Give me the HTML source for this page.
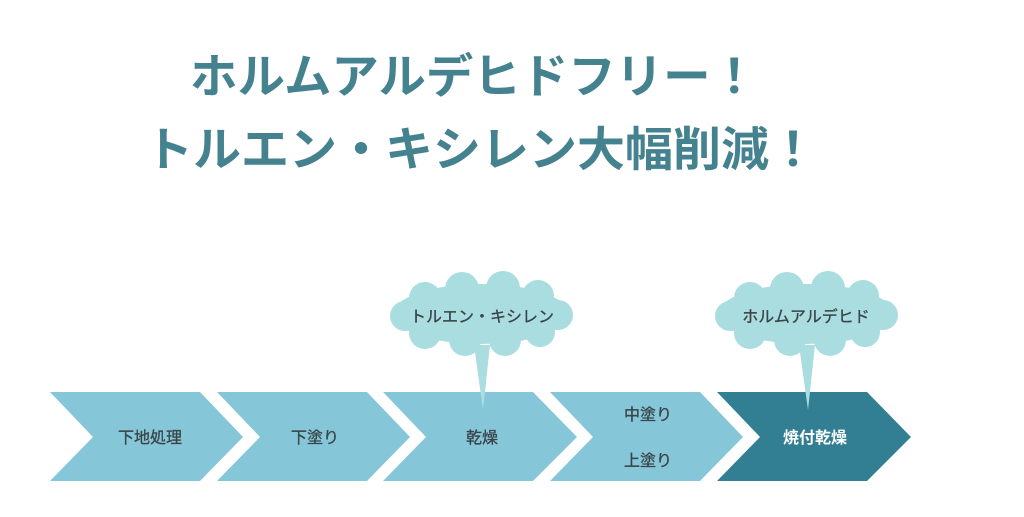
<!DOCTYPE html>
<html><head><meta charset="utf-8"><style>
html,body{margin:0;padding:0;background:#fff;width:1024px;height:517px;overflow:hidden}
svg{display:block}
text{font-family:"Liberation Sans","Noto Sans CJK JP",sans-serif}
</style></head><body>
<svg width="1024" height="517" viewBox="0 0 1024 517" xmlns="http://www.w3.org/2000/svg">
<g fill="#44828f" font-weight="bold" font-size="47">
<text x="190" y="93" textLength="568" lengthAdjust="spacingAndGlyphs">ホルムアルデヒドフリー！</text>
<text x="145" y="166" textLength="672" lengthAdjust="spacingAndGlyphs">トルエン・キシレン大幅削減！</text>
</g>
<g fill="#85c6d8">
<polygon points="50,392 200,392 243,437 200,481 50,481 93,437"/>
<polygon points="217,392 367,392 410,437 367,481 217,481 260,437"/>
<polygon points="383,392 533,392 577,437 533,481 383,481 426,437"/>
<polygon points="550,392 700,392 743,437 700,481 550,481 593,437"/>
</g>
<polygon fill="#327f94" points="717,392 867,392 911,437 867,481 717,481 760,437"/>
<g fill="#a9dde0">
<path d="M474,345 L483,410 L490,345 Z"/>
<ellipse cx="481" cy="314" rx="88" ry="30"/>
<circle cx="425" cy="298" r="16"/><circle cx="462" cy="289" r="17"/><circle cx="503" cy="288" r="17"/><circle cx="538" cy="296" r="16"/>
<circle cx="405" cy="316" r="15"/><circle cx="558" cy="315" r="15"/>
<circle cx="425" cy="333" r="16"/><circle cx="465" cy="340" r="16"/><circle cx="505" cy="340" r="16"/><circle cx="540" cy="332" r="15"/>
<path d="M799,345 L808,410 L815,345 Z"/>
<ellipse cx="806" cy="314" rx="88" ry="30"/>
<circle cx="750" cy="298" r="16"/><circle cx="787" cy="289" r="17"/><circle cx="828" cy="288" r="17"/><circle cx="863" cy="296" r="16"/>
<circle cx="730" cy="316" r="15"/><circle cx="883" cy="315" r="15"/>
<circle cx="750" cy="333" r="16"/><circle cx="790" cy="340" r="16"/><circle cx="830" cy="340" r="16"/><circle cx="865" cy="332" r="15"/>
</g>
<g fill="#3a4448" font-size="16" text-anchor="middle" stroke="#3a4448" stroke-width="0.3">
<text x="482" y="322">トルエン・キシレン</text>
<text x="806" y="322">ホルムアルデヒド</text>
<text x="150" y="443">下地処理</text>
<text x="315" y="443">下塗り</text>
<text x="482" y="443">乾燥</text>
<text x="648" y="420">中塗り</text>
<text x="648" y="466">上塗り</text>
</g>
<text x="815" y="443" fill="#fff" font-size="16" font-weight="bold" text-anchor="middle">焼付乾燥</text>
</svg>
</body></html>
